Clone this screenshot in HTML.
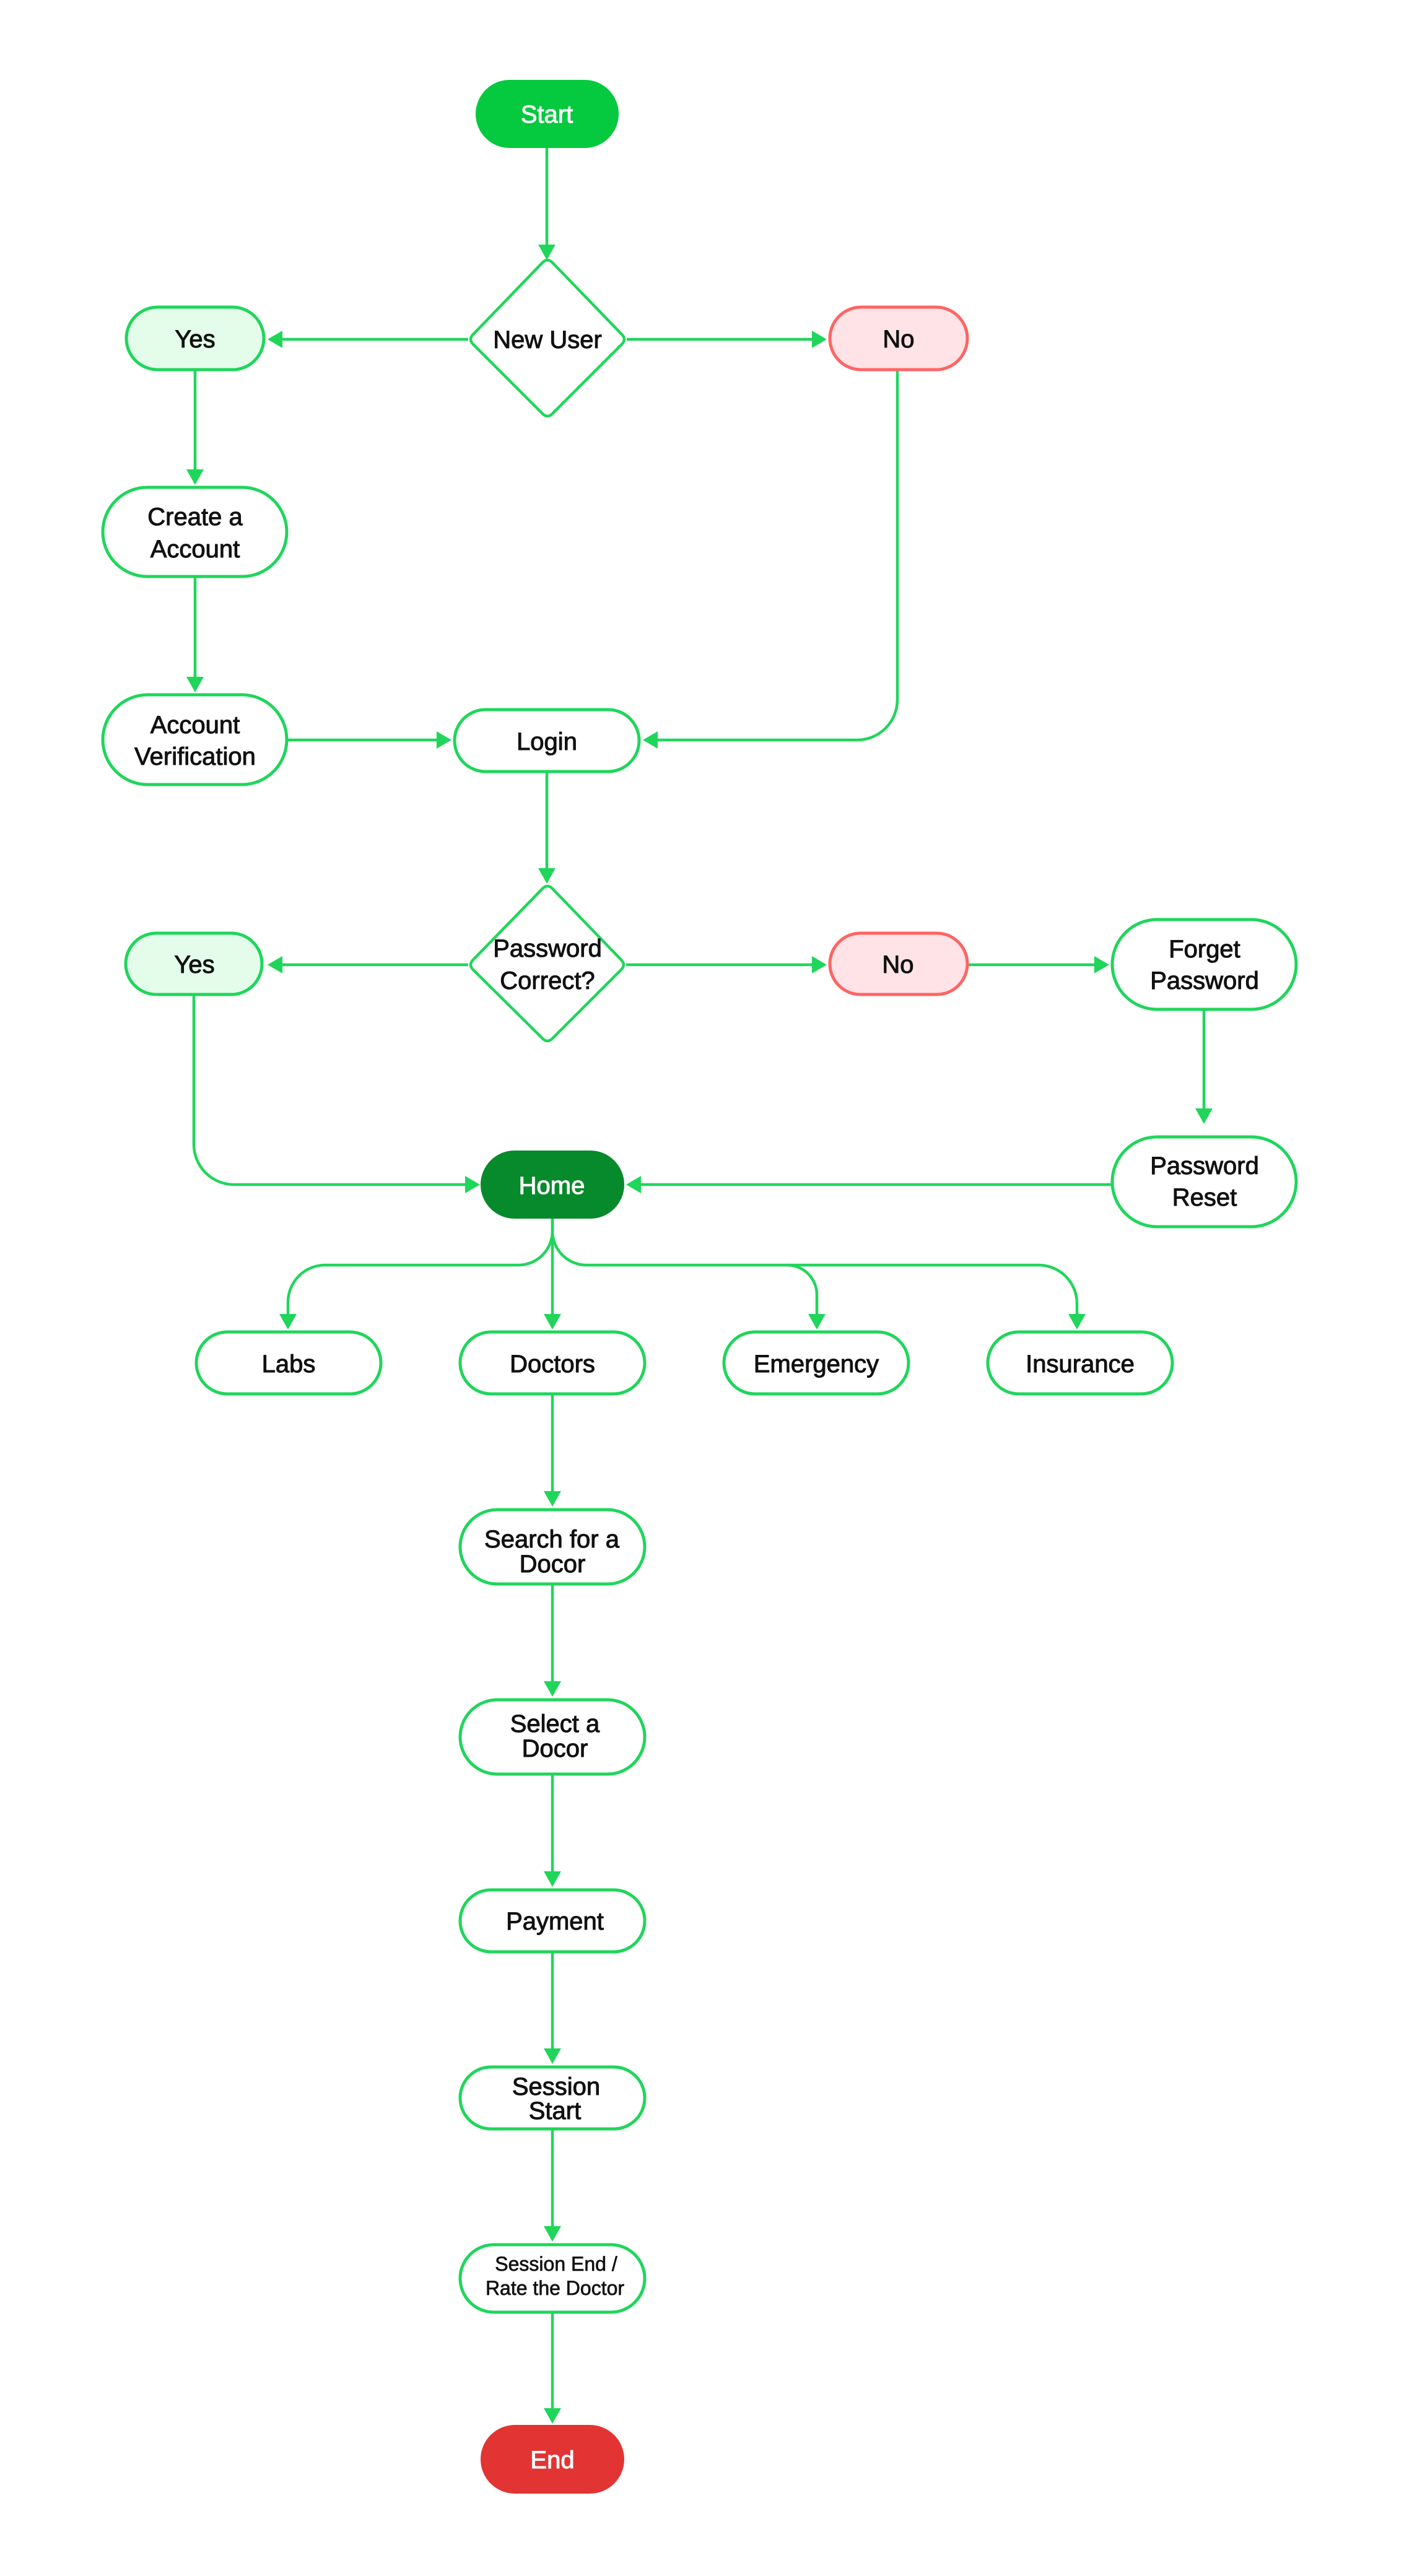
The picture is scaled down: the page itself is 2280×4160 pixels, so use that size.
<!DOCTYPE html>
<html>
<head>
<meta charset="utf-8">
<style>
html,body{margin:0;padding:0;background:#fff;}
svg{display:block;}
text{font-family:"Liberation Sans",Arial,sans-serif;font-size:40px;text-anchor:middle;fill:#111;stroke:#111;stroke-width:1px;}
text.w{fill:#fff;stroke:#fff;}
text.s{font-size:32px;stroke-width:0.7px;}
.box{fill:#fff;stroke:#1fd65b;stroke-width:5;}
.ln{fill:none;stroke:#1fd65b;stroke-width:4.5;}
.ah{fill:#1fd65b;}
</style>
</head>
<body>
<svg width="2280" height="4160" viewBox="0 0 2280 4160" xmlns="http://www.w3.org/2000/svg">
<rect width="2280" height="4160" fill="#fff"/>

<!-- connectors -->
<path class="ln" d="M883,239 V398"/>
<polygon class="ah" points="869,395 897,395 883,420"/>

<path class="ln" d="M756,548 H452"/>
<polygon class="ah" points="432,548 456,534 456,562"/>

<path class="ln" d="M1012,548 H1314"/>
<polygon class="ah" points="1335,548 1311,534 1311,562"/>

<path class="ln" d="M315,599 V762"/>
<polygon class="ah" points="301,758 329,758 315,783"/>

<path class="ln" d="M315,933 V1096"/>
<polygon class="ah" points="301,1093 329,1093 315,1118"/>

<path class="ln" d="M465,1195 H708"/>
<polygon class="ah" points="729,1195 705,1181 705,1209"/>

<path class="ln" d="M1449,599 V1130 A65,65 0 0 1 1384,1195 H1058"/>
<polygon class="ah" points="1038,1195 1062,1181 1062,1209"/>

<path class="ln" d="M883,1248 V1405"/>
<polygon class="ah" points="869,1402 897,1402 883,1427"/>

<path class="ln" d="M756,1558 H452"/>
<polygon class="ah" points="432,1558 456,1544 456,1572"/>

<path class="ln" d="M1011,1558 H1314"/>
<polygon class="ah" points="1335,1558 1311,1544 1311,1572"/>

<path class="ln" d="M1564,1558 H1770"/>
<polygon class="ah" points="1791,1558 1767,1544 1767,1572"/>

<path class="ln" d="M1944,1632 V1793"/>
<polygon class="ah" points="1930,1790 1958,1790 1944,1815"/>

<path class="ln" d="M313,1608 V1848 A65,65 0 0 0 378,1913 H754"/>
<polygon class="ah" points="775,1913 751,1899 751,1927"/>

<path class="ln" d="M1794,1913 H1031"/>
<polygon class="ah" points="1011,1913 1035,1899 1035,1927"/>

<!-- branches from Home -->
<path class="ln" d="M892,1968 V2126"/>
<polygon class="ah" points="878,2122 906,2122 892,2147"/>

<path class="ln" d="M892,1968 V1988 A55,55 0 0 1 837,2043 H525 A60,60 0 0 0 465,2103 V2126"/>
<polygon class="ah" points="451,2122 479,2122 465,2147"/>

<path class="ln" d="M892,1988 A55,55 0 0 0 947,2043 H1271 A48,48 0 0 1 1319,2091 V2126"/>
<polygon class="ah" points="1305,2122 1333,2122 1319,2147"/>

<path class="ln" d="M1271,2043 H1677 A62,62 0 0 1 1739,2105 V2126"/>
<polygon class="ah" points="1725,2122 1753,2122 1739,2147"/>

<!-- doctors chain -->
<path class="ln" d="M892,2253 V2412"/>
<polygon class="ah" points="878,2408 906,2408 892,2433"/>

<path class="ln" d="M892,2560 V2719"/>
<polygon class="ah" points="878,2715 906,2715 892,2740"/>

<path class="ln" d="M892,2867 V3026"/>
<polygon class="ah" points="878,3022 906,3022 892,3047"/>

<path class="ln" d="M892,3154 V3312"/>
<polygon class="ah" points="878,3308 906,3308 892,3333"/>

<path class="ln" d="M892,3440 V3599"/>
<polygon class="ah" points="878,3595 906,3595 892,3620"/>

<path class="ln" d="M892,3736 V3893"/>
<polygon class="ah" points="878,3889 906,3889 892,3914"/>

<!-- nodes -->
<rect x="768" y="129" width="231" height="110" rx="55" fill="#05c93e"/>
<text class="w" x="883" y="198">Start</text>

<path d="M876,424 Q884,416 892,424 L1004,540 Q1012,548 1004,556 L892,668 Q884,676 876,668 L764,556 Q756,548 764,540 Z" fill="#fff" stroke="#1fd65b" stroke-width="4.5" stroke-linejoin="round"/>
<text x="884" y="562">New User</text>

<rect x="204" y="496" width="222" height="101" rx="50.5" fill="#e3fdea" stroke="#1fd65b" stroke-width="5"/>
<text x="315" y="561">Yes</text>

<rect x="1340" y="496" width="222" height="101" rx="50.5" fill="#ffe3e6" stroke="#ff6464" stroke-width="5"/>
<text x="1451" y="561">No</text>

<rect class="box" x="166" y="787" width="297" height="144" rx="72"/>
<text x="315" y="848">Create a</text>
<text x="315" y="900">Account</text>

<rect class="box" x="166" y="1122" width="297" height="145" rx="72.5"/>
<text x="315" y="1184">Account</text>
<text x="315" y="1235">Verification</text>

<rect class="box" x="734" y="1146" width="298" height="100" rx="50"/>
<text x="883" y="1211">Login</text>

<path d="M876,1435 Q884,1427 892,1435 L1003,1550 Q1011,1558 1003,1566 L892,1677 Q884,1685 876,1677 L764,1566 Q756,1558 764,1550 Z" fill="#fff" stroke="#1fd65b" stroke-width="4.5" stroke-linejoin="round"/>
<text x="884" y="1545">Password</text>
<text x="884" y="1597">Correct?</text>

<rect x="203" y="1507" width="220" height="99" rx="49.5" fill="#e3fdea" stroke="#1fd65b" stroke-width="5"/>
<text x="314" y="1571">Yes</text>

<rect x="1340" y="1507" width="222" height="99" rx="49.5" fill="#ffe3e6" stroke="#ff6464" stroke-width="5"/>
<text x="1450" y="1571">No</text>

<rect class="box" x="1796" y="1485" width="297" height="145" rx="72.5"/>
<text x="1945" y="1546">Forget</text>
<text x="1945" y="1597">Password</text>

<rect class="box" x="1796" y="1836" width="297" height="145" rx="72.5"/>
<text x="1945" y="1896">Password</text>
<text x="1945" y="1947">Reset</text>

<rect x="776" y="1858" width="232" height="110" rx="55" fill="#078a2b"/>
<text class="w" x="891" y="1928">Home</text>

<rect class="box" x="317" y="2151" width="298" height="100" rx="50"/>
<text x="466" y="2216">Labs</text>

<rect class="box" x="743" y="2151" width="298" height="100" rx="50"/>
<text x="892" y="2216">Doctors</text>

<rect class="box" x="1169" y="2151" width="298" height="100" rx="50"/>
<text x="1318" y="2216">Emergency</text>

<rect class="box" x="1595" y="2151" width="298" height="100" rx="50"/>
<text x="1744" y="2216">Insurance</text>

<rect class="box" x="743" y="2438" width="298" height="120" rx="60"/>
<text x="891" y="2499">Search for a</text>
<text x="892" y="2539">Docor</text>

<rect class="box" x="743" y="2745" width="298" height="120" rx="60"/>
<text x="896" y="2797">Select a</text>
<text x="896" y="2837">Docor</text>

<rect class="box" x="743" y="3052" width="298" height="100" rx="50"/>
<text x="896" y="3116">Payment</text>

<rect class="box" x="743" y="3338" width="298" height="100" rx="50"/>
<text x="898" y="3383">Session</text>
<text x="896" y="3422">Start</text>

<rect class="box" x="743" y="3625" width="298" height="109" rx="54.5"/>
<text class="s" x="898" y="3667">Session End /</text>
<text class="s" x="896" y="3706">Rate the Doctor</text>

<rect x="776" y="3916" width="232" height="111" rx="55.5" fill="#e33434"/>
<text class="w" x="892" y="3986">End</text>
</svg>
</body>
</html>
